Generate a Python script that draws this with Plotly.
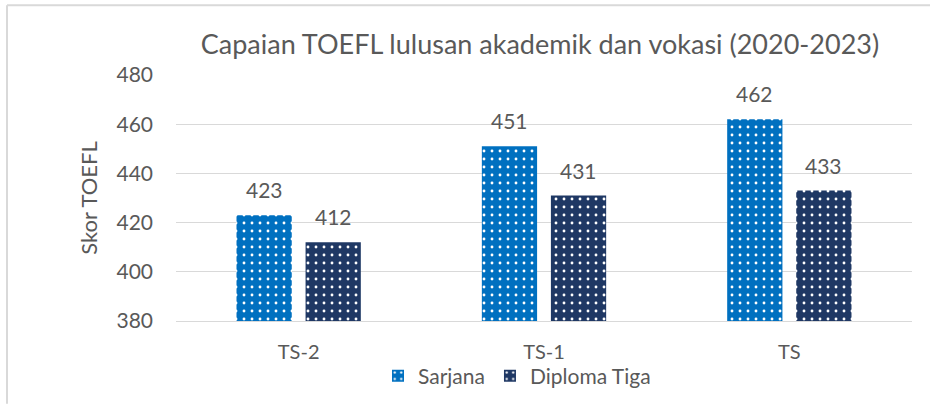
import plotly.graph_objects as go

categories = ["TS-2", "TS-1", "TS"]
sarjana = [423, 451, 462]
diploma = [412, 431, 433]
series_names = ["Sarjana", "Diploma Tiga"]
y_ticks = [380, 400, 420, 440, 460, 480]

FONT = "Lato, Open Sans, sans-serif"
GRAY = "#595959"
BLUE = "#0070C0"
NAVY = "#1F3864"

W, H = 930, 409
L, R, T, B = 176, 18, 75, 84
plot_w = W - L - R
plot_h = H - T - B

fig = go.Figure()
for name, vals, col in [(series_names[0], sarjana, BLUE), (series_names[1], diploma, NAVY)]:
    fig.add_trace(go.Bar(
        x=categories, y=vals, name=name,
        marker=dict(color=col, line=dict(width=0),
                    pattern=dict(shape=".", fgcolor="white", bgcolor=col,
                                 size=8, solidity=0.1, fillmode="replace")),
        cliponaxis=False,
    ))

# data labels
cat_w = plot_w / len(categories)
bargap = 0.437
bargroupgap = 0.2
group_w = cat_w * (1 - bargap)
slot = group_w / 2
annotations = []
for i, c in enumerate(categories):
    for j, vals in enumerate([sarjana, diploma]):
        off = (j - 0.5) * slot
        annotations.append(dict(
            x=c, y=vals[i], xref="x", yref="y", text=str(vals[i]),
            showarrow=False, xshift=off, yshift=11, yanchor="bottom",
            font=dict(family=FONT, size=21, color=GRAY)))

fig.update_layout(
    width=W, height=H,
    margin=dict(l=L, r=R, t=T, b=B, pad=0),
    paper_bgcolor="white", plot_bgcolor="white",
    barmode="group", bargap=bargap, bargroupgap=bargroupgap,
    title=dict(text="Capaian TOEFL lulusan akademik dan vokasi (2020-2023)",
               x=540 / W, xanchor="center", y=1 - 45 / H, yanchor="middle",
               font=dict(family=FONT, size=27, color=GRAY)),
    font=dict(family=FONT, color=GRAY),
    showlegend=True,
    legend=dict(orientation="h", x=(517 - L) / plot_w, xanchor="center",
                y=-(381 - (T + plot_h)) / plot_h, yanchor="middle",
                bgcolor="rgba(0,0,0,0)",
                font=dict(family=FONT, size=21, color=GRAY),
                itemwidth=30, traceorder="normal"),
    annotations=annotations,
    shapes=[
        dict(type="line", xref="paper", yref="paper",
             x0=-(L - 7) / plot_w, x1=-(L - 7) / plot_w,
             y0=-B / plot_h, y1=(plot_h + T - 4) / plot_h,
             line=dict(color="#D9D9D9", width=2)),
        dict(type="line", xref="paper", yref="paper",
             x0=-(L - 7) / plot_w, x1=(plot_w + R) / plot_w,
             y0=(plot_h + T - 4) / plot_h, y1=(plot_h + T - 4) / plot_h,
             line=dict(color="#D9D9D9", width=2)),
    ],
)
fig.update_yaxes(range=[380, 480], tickvals=y_ticks, showgrid=True,
                 gridcolor="#D9D9D9", gridwidth=1, zeroline=False, showline=False,
                 ticks="", ticklabelstandoff=22,
                 tickfont=dict(family=FONT, size=21, color=GRAY),
                 title=dict(text="Skor TOEFL", standoff=12,
                            font=dict(family=FONT, size=22, color=GRAY)))
fig.update_xaxes(showline=True, linecolor="#D9D9D9", linewidth=1, ticks="",
                 ticklabelstandoff=13,
                 tickfont=dict(family=FONT, size=20, color=GRAY))

fig.write_html("out.html", config={"displayModeBar": False},
               post_script="document.body.style.margin='0';document.body.style.overflow='hidden';")
